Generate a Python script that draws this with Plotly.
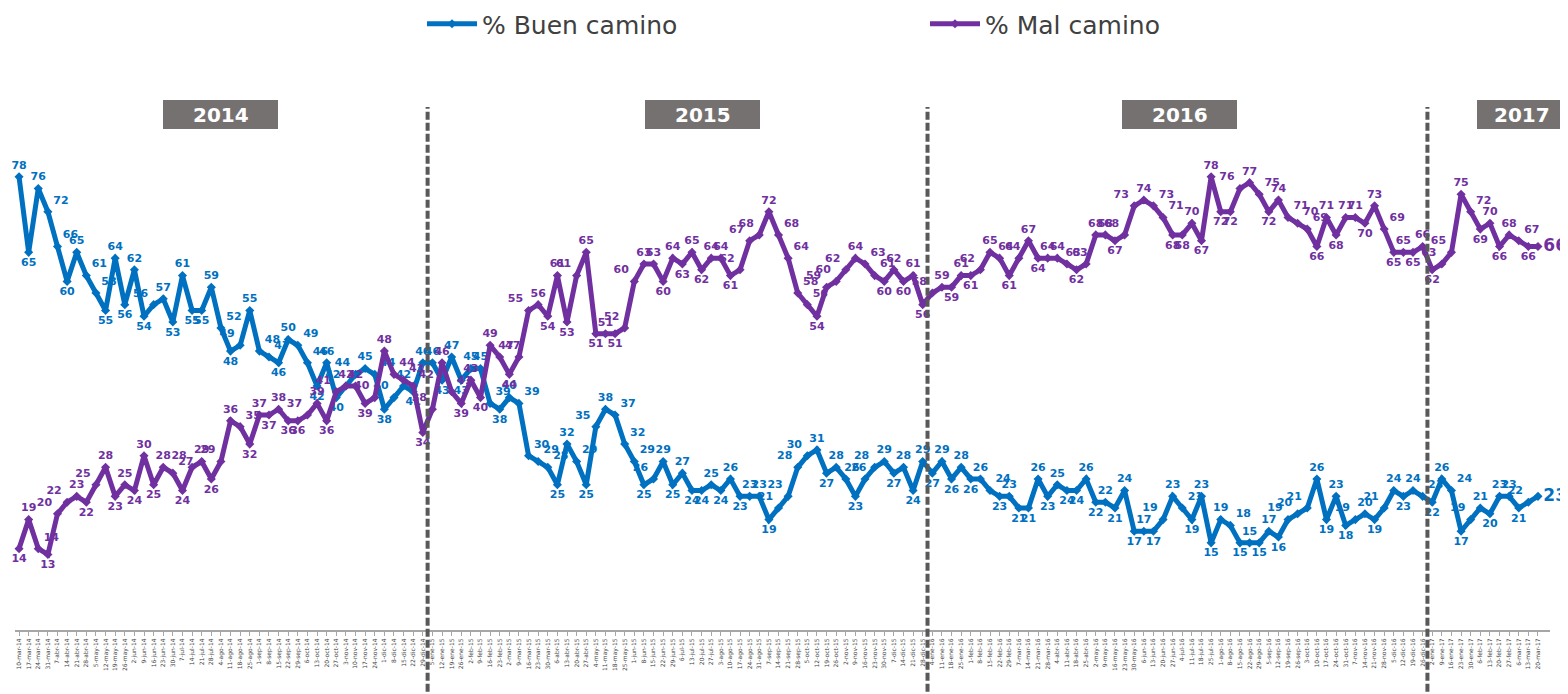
import datetime as dt
import plotly.graph_objects as go

# ---------------- data ----------------
buen_camino = [78, 65, 76, 72, 66, 60, 65, 61, 58, 55, 64, 56, 62, 54, 56, 57, 53, 61, 55, 55,
               59, 52, 48, 49, 55, 48, 47, 46, 50, 49, 46, 42, 46, 40, 42, 44, 45, 44, 38, 40,
               42, 41, 46, 46, 43, 47, 43, 45, 45, 39, 38, 40, 39, 30, 29, 28, 25, 32, 29, 25,
               35, 38, 37, 32, 29, 25, 26, 29, 25, 27, 24, 24, 25, 24, 26, 23, 23, 23, 19, 21,
               23, 28, 30, 31, 27, 28, 26, 23, 26, 28, 29, 27, 28, 24, 29, 27, 29, 26, 28, 26,
               26, 24, 23, 23, 21, 21, 26, 23, 25, 24, 24, 26, 22, 22, 21, 24, 17, 17, 17, 19,
               23, 21, 19, 23, 15, 19, 18, 15, 15, 15, 17, 16, 19, 20, 21, 26, 19, 23, 18, 19,
               20, 19, 21, 24, 23, 24, 23, 22, 26, 24, 17, 19, 21, 20, 23, 23, 21, 22, 23]

mal_camino = [14, 19, 14, 13, 20, 22, 23, 22, 25, 28, 23, 25, 24, 30, 25, 28, 27, 24, 28, 29,
              26, 29, 36, 35, 32, 37, 37, 38, 36, 36, 37, 39, 36, 41, 42, 42, 39, 40, 48, 44,
              43, 42, 34, 38, 46, 41, 39, 43, 40, 49, 47, 44, 47, 55, 56, 54, 61, 53, 61, 65,
              51, 51, 51, 52, 60, 63, 63, 60, 64, 63, 65, 62, 64, 64, 61, 62, 67, 68, 72, 68,
              64, 58, 56, 54, 59, 60, 62, 64, 63, 61, 60, 62, 60, 61, 56, 58, 59, 59, 61, 61,
              62, 65, 64, 61, 64, 67, 64, 64, 64, 63, 62, 63, 68, 68, 67, 68, 73, 74, 73, 71,
              68, 68, 70, 67, 78, 72, 72, 76, 77, 75, 72, 74, 71, 70, 69, 66, 71, 68, 71, 71,
              70, 73, 69, 65, 65, 65, 66, 62, 63, 65, 75, 72, 69, 70, 66, 68, 67, 66, 66]

series_names = ["% Buen camino", "% Mal camino"]
year_labels = ["2014", "2015", "2016", "2017"]
first_week = dt.date(2014, 3, 10)
month_abbr = ["ene", "feb", "mar", "abr", "may", "jun", "jul", "ago", "sep", "oct", "nov", "dic"]
week_dates = [first_week + dt.timedelta(weeks=i) for i in range(len(buen_camino))]
tick_labels = [f"{d.day}-{month_abbr[d.month - 1]}-{str(d.year)[2:]}" for d in week_dates]

# ---------------- styling ----------------
BLUE = "#0070C0"
PURPLE = "#7030A0"
GREY_BOX = "#767171"
DASH_COL = "#595959"
LABEL_FONT = "DejaVu Sans"

n = len(buen_camino)
xs = list(range(n))


def label_positions(v):
    pos = []
    for i in range(len(v)):
        p = v[i - 1] if i > 0 else v[i]
        q = v[i + 1] if i < len(v) - 1 else v[i]
        if i == len(v) - 1:
            pos.append("middle right")
        elif v[i] >= p and v[i] >= q:
            pos.append("top center")
        elif v[i] <= p and v[i] <= q:
            pos.append("bottom center")
        elif p < v[i] < q:
            pos.append("top left")
        else:
            pos.append("top right")
    return pos


def label_sizes(v):
    return [11] * (len(v) - 1) + [17]


fig = go.Figure()
for name, vals, col in [(series_names[0], buen_camino, BLUE), (series_names[1], mal_camino, PURPLE)]:
    fig.add_trace(go.Scatter(
        x=xs, y=vals, name=name, mode="lines+markers+text",
        line=dict(color=col, width=5),
        marker=dict(symbol="diamond", size=7, color=col),
        text=[str(v) for v in vals],
        textposition=label_positions(vals),
        textfont=dict(family=LABEL_FONT, size=label_sizes(vals), color=col, weight="bold"),
        cliponaxis=False,
    ))

# year boundaries (between last week of a year and first of the next)
shapes = []
boundaries = [i - 0.5 for i in range(1, n) if week_dates[i].year != week_dates[i - 1].year]
for b in boundaries:
    shapes.append(dict(type="line", xref="x", yref="paper", x0=b, x1=b, y0=-0.125, y1=0.9,
                       line=dict(color=DASH_COL, width=4, dash="8px,3px"), layer="above"))

# page offset: the html body has an 8px margin, so the figure starts at page (8, 8)
OFF = 8
PW = 1535.0  # plot width (px)
PH = 581.0   # plot height (px)


def px2paper_x(px):
    return (px - 15) / PW


def py2paper_y(py):
    return (630 - py) / PH


box_px = [(163, 278), (645, 760), (1122, 1237), (1477, 1580)]
annotations = []
for (a, b_), yr in zip(box_px, year_labels):
    shapes.append(dict(type="rect", xref="paper", yref="paper",
                       x0=px2paper_x(a), x1=px2paper_x(b_), y0=py2paper_y(129), y1=py2paper_y(100),
                       fillcolor=GREY_BOX, line=dict(width=0), layer="above"))
    cx = (a + b_) / 2 if yr != "2017" else 1522
    annotations.append(dict(xref="paper", yref="paper", x=px2paper_x(cx), y=py2paper_y(114.5),
                            text=f"<b>{yr}</b>", showarrow=False,
                            font=dict(family="DejaVu Sans", size=20, color="white"),
                            xanchor="center", yanchor="middle"))

fig.update_layout(
    width=1568 - OFF, height=694 - OFF,
    margin=dict(l=15 - OFF, r=18, t=49 - OFF, b=64, autoexpand=False),
    paper_bgcolor="white", plot_bgcolor="white",
    shapes=shapes, annotations=annotations,
    showlegend=True,
    legend=dict(orientation="h", x=px2paper_x(422), y=py2paper_y(24), xanchor="left", yanchor="middle",
                font=dict(family="DejaVu Sans", size=25, color="#404040"),
                itemwidth=50, entrywidth=438, entrywidthmode="pixels", bgcolor="rgba(0,0,0,0)"),
    xaxis=dict(range=[-0.42, 159.25], tickmode="array", tickvals=xs, ticktext=tick_labels,
               tickangle=-90, tickfont=dict(family="DejaVu Sans", size=6, color="#404040"),
               showgrid=False, zeroline=False, showline=True, linecolor="#A6A6A6", linewidth=2,
               ticks="outside", ticklen=4, tickcolor="#A6A6A6"),
    yaxis=dict(range=[0, 100], visible=False, showgrid=False, zeroline=False),
)

fig.write_html("out.html")
